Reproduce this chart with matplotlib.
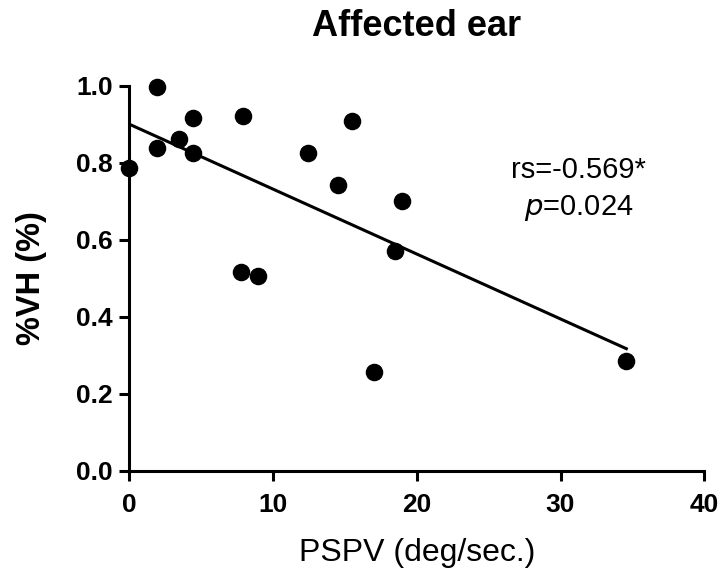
import numpy as np
import matplotlib
matplotlib.use("Agg")
import matplotlib.pyplot as plt

# data
pspv = [0, 1.9, 1.95, 3.45, 4.45, 4.45, 7.93, 7.75, 8.98, 12.46, 14.5, 15.5, 17.0, 18.5, 19.0, 34.58]
vh = [0.787, 0.998, 0.84, 0.862, 0.916, 0.825, 0.923, 0.516, 0.507, 0.827, 0.743, 0.909, 0.256, 0.57, 0.702, 0.284]
fit_intercept = 0.9005
fit_slope = -0.01687
x_ticks = [0, 10, 20, 30, 40]
y_ticks = [0.0, 0.2, 0.4, 0.6, 0.8, 1.0]

plt.rcParams['font.family'] = ['Liberation Sans', 'DejaVu Sans']

fig = plt.figure(figsize=(7.23, 5.69), dpi=100)
ax = fig.add_axes([0.179, 0.1728, 0.795, 0.6761])

ax.scatter(pspv, vh, s=135, color='black', zorder=3, clip_on=False)
xf = np.array([min(pspv), max(pspv)])
ax.plot(xf, fit_intercept + fit_slope * xf, color='black', lw=2.2)

ax.set_xlim(0, 40)
ax.set_ylim(0, 1.0)
ax.set_xticks(x_ticks)
ax.set_yticks(y_ticks)
ax.set_xticklabels([str(t) for t in x_ticks], fontsize=19, fontweight='bold')
ax.set_yticklabels(['%.1f' % t for t in y_ticks], fontsize=19, fontweight='bold')
ax.tick_params(width=2.2, length=7.5, direction='out')
ax.tick_params(axis='y', pad=4.5)
ax.tick_params(axis='x', pad=8.5)

for s in ['top', 'right']:
    ax.spines[s].set_visible(False)
for s in ['left', 'bottom']:
    ax.spines[s].set_linewidth(2.2)

ax.set_xlabel('PSPV (deg/sec.)', fontsize=23, labelpad=15)
ax.set_ylabel('%VH (%)', fontsize=23.5, fontweight='bold', labelpad=21)
ax.set_title('Affected ear', fontsize=26, fontweight='bold', pad=36)

ax.text(31.25, 0.782, 'rs=-0.569*', fontsize=21, ha='center', va='center')
ax.text(31.25, 0.683, r'$\it{p}$=0.024', fontsize=21, ha='center', va='center')

fig.savefig('out.png', dpi=100)
